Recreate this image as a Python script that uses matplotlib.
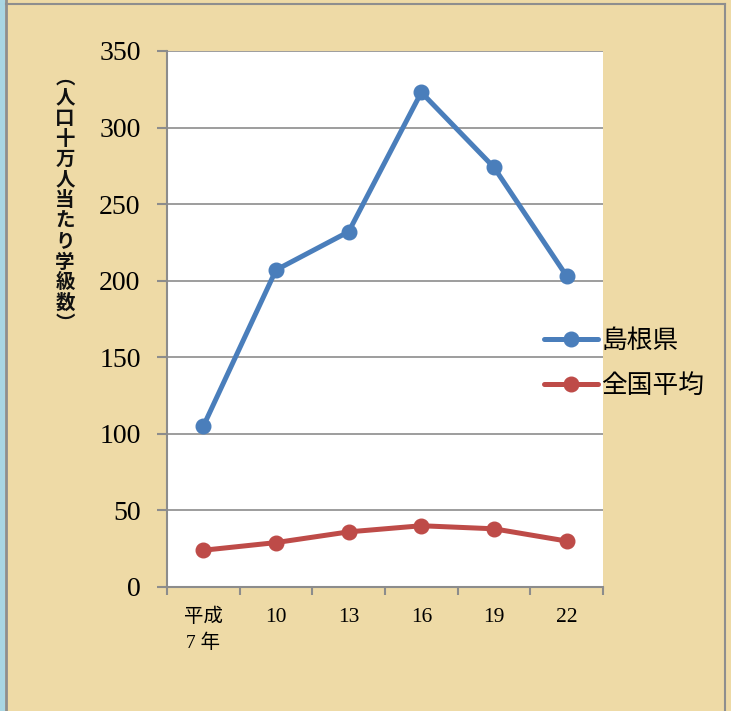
import matplotlib
matplotlib.use("Agg")
import matplotlib.pyplot as plt
from matplotlib.patches import Rectangle
from matplotlib.lines import Line2D

plt.rcParams['font.family'] = ['Noto Sans CJK JP', 'DejaVu Sans']

# Data
categories = ["平成\n7 年", "10", "13", "16", "19", "22"]
shimane = [105, 207, 232, 323, 274, 203]
national = [24, 29, 36, 40, 38, 30]
series_names = ["島根県", "全国平均"]
y_ticks = [0, 50, 100, 150, 200, 250, 300, 350]

W, H = 731, 711
fig = plt.figure(figsize=(W / 100, H / 100), dpi=100)
fig.patch.set_facecolor("#EEDAA6")

# Frame decoration: blue strip on the left and gray border lines
fig.add_artist(Rectangle((0, 0), 5 / W, 1, transform=fig.transFigure,
                         facecolor="#A9D6E3", edgecolor="none"))
fig.add_artist(Line2D([6 / W, 6 / W], [0, 1], transform=fig.transFigure,
                      color="#8E8E8E", lw=2))
fig.add_artist(Line2D([725 / W, 725 / W], [0, 1 - 4 / H], transform=fig.transFigure,
                      color="#8E8E8E", lw=1.5))
fig.add_artist(Line2D([6 / W, 725 / W], [1 - 4 / H, 1 - 4 / H], transform=fig.transFigure,
                      color="#8E8E8E", lw=1.5))

left, right, top, bottom = 167, 603, 51, 587
ax = fig.add_axes([left / W, 1 - bottom / H, (right - left) / W, (bottom - top) / H])
ax.set_facecolor("white")

x = list(range(len(categories)))
blue = "#4A7EBB"
red = "#BE4B48"
ax.plot(x, shimane, color=blue, lw=3.6, marker="o", ms=10.5, label=series_names[0],
        solid_capstyle="round", zorder=3)
ax.plot(x, national, color=red, lw=3.6, marker="o", ms=10.5, label=series_names[1],
        solid_capstyle="round", zorder=3)

ax.set_xlim(-0.5, len(categories) - 0.5)
ax.set_ylim(0, 350)
ax.set_yticks(y_ticks)
ax.set_yticklabels([str(v) for v in y_ticks], family="Liberation Serif", fontsize=20)
ax.yaxis.grid(True, color="#8C8C8C", lw=1.2)
ax.set_axisbelow(True)

# Category ticks on boundaries, labels centred in each category
ax.set_xticks([i - 0.5 for i in range(len(categories) + 1)])
ax.set_xticklabels([])
ax.set_xticks(x, minor=True)
ax.set_xticklabels(categories, minor=True)
for i, lab in enumerate(ax.get_xticklabels(minor=True)):
    if i == 0:
        lab.set_family(["Liberation Serif", "Noto Sans CJK JP"])
        lab.set_fontsize(14)
        lab.set_linespacing(1.5)
    else:
        lab.set_family("Liberation Serif")
        lab.set_fontsize(15.5)
ax.tick_params(axis="x", which="minor", length=0, pad=15)
ax.tick_params(axis="x", which="major", length=6, width=1.5, color="#8C8C8C", direction="out")
ax.tick_params(axis="y", length=7, width=1.5, color="#8C8C8C", direction="out", pad=12)

for s in ["top", "right"]:
    ax.spines[s].set_visible(False)
for s in ["left", "bottom"]:
    ax.spines[s].set_color("#8C8C8C")
    ax.spines[s].set_linewidth(1.5)

# Vertical axis title, characters stacked upright
title = "︵人口十万人当たり学級数︶"
fig.text(65 / W, 1 - 201 / H, "\n".join(title), ha="center", va="center",
         fontsize=14, fontweight="bold", linespacing=1.1, color="#111111")

leg = ax.legend(loc="upper left", bbox_to_anchor=(0.811, 0.527), frameon=False,
                fontsize=18.5, handlelength=2.1, handletextpad=0.15, labelspacing=0.75)
leg.set_zorder(5)

fig.savefig("out.png", dpi=100, facecolor=fig.get_facecolor())
